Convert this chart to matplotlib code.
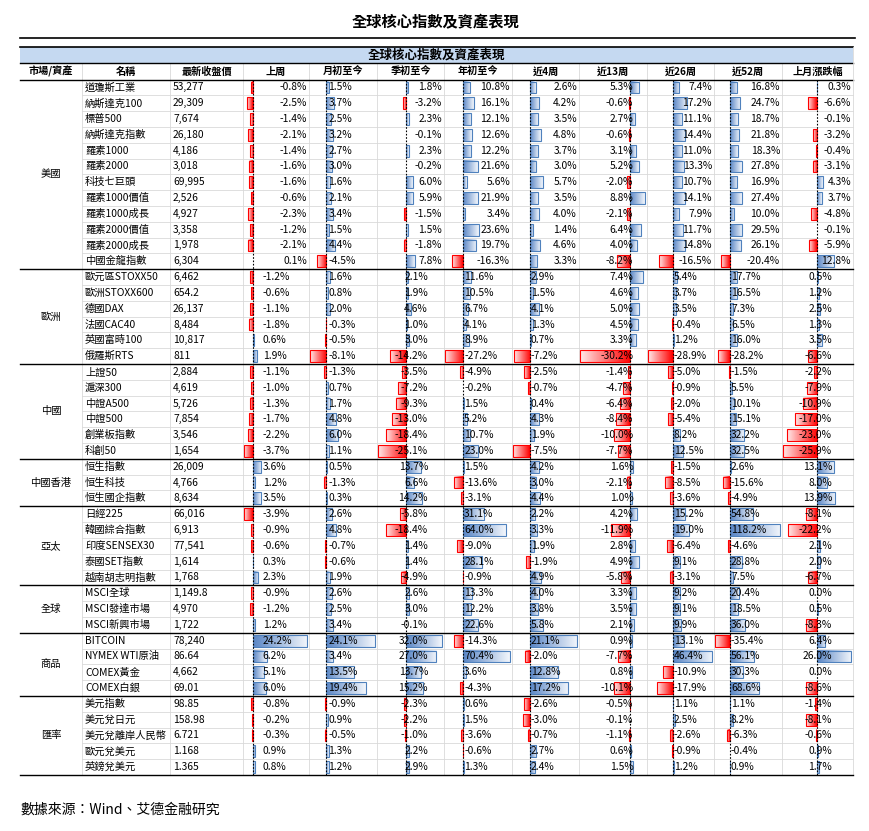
import matplotlib
matplotlib.use("Agg")
import matplotlib.pyplot as plt
import numpy as np
from matplotlib.colors import LinearSegmentedColormap

plt.rcParams['font.family'] = ['Noto Sans CJK TC', 'DejaVu Sans']

title = "全球核心指數及資產表現"
col_headers = ["市場/資產", "名稱", "最新收盤價", "上周", "月初至今", "季初至今", "年初至今",
               "近4周", "近13周", "近26周", "近52周", "上月漲跌幅"]
groups = [("美國", 12), ("歐洲", 6), ("中國", 6), ("中國香港", 3), ("亞太", 5),
          ("全球", 3), ("商品", 4), ("匯率", 5)]
names = ["道瓊斯工業", "納斯達克100", "標普500", "納斯達克指數", "羅素1000", "羅素2000", "科技七巨頭",
         "羅素1000價值", "羅素1000成長", "羅素2000價值", "羅素2000成長", "中國金龍指數",
         "歐元區STOXX50", "歐洲STOXX600", "德國DAX", "法國CAC40", "英國富時100", "俄羅斯RTS",
         "上證50", "滬深300", "中證A500", "中證500", "創業板指數", "科創50",
         "恒生指數", "恒生科技", "恒生國企指數",
         "日經225", "韓國綜合指數", "印度SENSEX30", "泰國SET指數", "越南胡志明指數",
         "MSCI全球", "MSCI發達市場", "MSCI新興市場",
         "BITCOIN", "NYMEX WTI原油", "COMEX黃金", "COMEX白銀",
         "美元指數", "美元兌日元", "美元兌離岸人民幣", "歐元兌美元", "英鎊兌美元"]
latest = ["53,277", "29,309", "7,674", "26,180", "4,186", "3,018", "69,995", "2,526", "4,927", "3,358",
          "1,978", "6,304", "6,462", "654.2", "26,137", "8,484", "10,817", "811", "2,884", "4,619",
          "5,726", "7,854", "3,546", "1,654", "26,009", "4,766", "8,634", "66,016", "6,913", "77,541",
          "1,614", "1,768", "1,149.8", "4,970", "1,722", "78,240", "86.64", "4,662", "69.01",
          "98.85", "158.98", "6.721", "1.168", "1.365"]
wk = [-0.8,-2.5,-1.4,-2.1,-1.4,-1.6,-1.6,-0.6,-2.3,-1.2,-2.1,0.1,
      -1.2,-0.6,-1.1,-1.8,0.6,1.9, -1.1,-1.0,-1.3,-1.7,-2.2,-3.7, 3.6,1.2,3.5,
      -3.9,-0.9,-0.6,0.3,2.3, -0.9,-1.2,1.2, 24.2,6.2,5.1,6.0, -0.8,-0.2,-0.3,0.9,0.8]
mtd = [1.5,3.7,2.5,3.2,2.7,3.0,1.6,2.1,3.4,1.5,4.4,-4.5,
       1.6,0.8,2.0,-0.3,-0.5,-8.1, -1.3,0.7,1.7,4.8,6.0,1.1, 0.5,-1.3,0.3,
       2.6,4.8,-0.7,-0.6,1.9, 2.6,2.5,3.4, 24.1,3.4,13.5,19.4, -0.9,0.9,-0.5,1.3,1.2]
qtd = [1.8,-3.2,2.3,-0.1,2.3,-0.2,6.0,5.9,-1.5,1.5,-1.8,7.8,
       2.1,1.9,4.6,1.0,3.0,-14.2, -3.5,-7.2,-9.3,-13.0,-18.4,-25.1, 13.7,6.6,14.2,
       -5.8,-18.4,1.4,1.4,-4.9, 2.6,3.0,-0.1, 32.0,27.0,13.7,15.2, -2.3,-2.2,-1.0,2.2,2.9]
ytd = [10.8,16.1,12.1,12.6,12.2,21.6,5.6,21.9,3.4,23.6,19.7,-16.3,
       11.6,10.5,6.7,4.1,8.9,-27.2, -4.9,-0.2,1.5,5.2,10.7,23.0, 1.5,-13.6,-3.1,
       31.1,64.0,-9.0,28.1,-0.9, 13.3,12.2,22.6, -14.3,70.4,3.6,-4.3, 0.6,1.5,-3.6,-0.6,1.3]
w4 = [2.6,4.2,3.5,4.8,3.7,3.0,5.7,3.5,4.0,1.4,4.6,3.3,
      2.9,1.5,4.1,1.3,0.7,-7.2, -2.5,-0.7,0.4,4.3,1.9,-7.5, 4.2,3.0,4.4,
      2.2,3.3,1.9,-1.9,4.9, 4.0,3.8,5.8, 21.1,-2.0,12.8,17.2, -2.6,-3.0,-0.7,2.7,2.4]
w13 = [5.3,-0.6,2.7,-0.6,3.1,5.2,-2.0,8.8,-2.1,6.4,4.0,-8.2,
       7.4,4.6,5.0,4.5,3.3,-30.2, -1.4,-4.7,-6.4,-8.4,-10.0,-7.7, 1.6,-2.1,1.0,
       4.2,-11.9,2.8,4.9,-5.8, 3.3,3.5,2.1, 0.9,-7.7,0.8,-10.1, -0.5,-0.1,-1.1,0.6,1.5]
w26 = [7.4,17.2,11.1,14.4,11.0,13.3,10.7,14.1,7.9,11.7,14.8,-16.5,
       5.4,3.7,3.5,-0.4,1.2,-28.9, -5.0,-0.9,-2.0,-5.4,8.2,12.5, -1.5,-8.5,-3.6,
       15.2,19.0,-6.4,9.1,-3.1, 9.2,9.1,9.9, 13.1,46.4,-10.9,-17.9, 1.1,2.5,-2.6,-0.9,1.2]
w52 = [16.8,24.7,18.7,21.8,18.3,27.8,16.9,27.4,10.0,29.5,26.1,-20.4,
       17.7,16.5,7.3,6.5,16.0,-28.2, -1.5,5.5,10.1,15.1,32.2,32.5, 2.6,-15.6,-4.9,
       54.8,118.2,-4.6,28.8,7.5, 20.4,18.5,36.0, -35.4,56.1,30.3,68.6, 1.1,8.2,-6.3,-0.4,0.9]
lm = [0.3,-6.6,-0.1,-3.2,-0.4,-3.1,4.3,3.7,-4.8,-0.1,-5.9,12.8,
      0.5,1.2,2.5,1.3,3.5,-6.6, -2.2,-7.9,-10.9,-17.0,-23.0,-25.9, 13.1,8.0,13.9,
      -8.1,-22.2,2.1,2.0,-6.7, 0.0,0.5,-8.3, 6.4,26.0,0.0,-8.6, -1.4,-8.1,-0.6,0.9,1.7]
series = [wk, mtd, qtd, ytd, w4, w13, w26, w52, lm]

W, H = 869, 831
fig = plt.figure(figsize=(W/100, H/100), dpi=100)
ax = fig.add_axes([0, 0, 1, 1])
ax.set_xlim(0, W); ax.set_ylim(H, 0); ax.axis('off')

edges = [20, 82, 170, 243, 309, 377, 444, 512, 579, 647, 714, 782, 853]
ax.text(436, 22, title, ha='center', va='center', fontsize=11, fontweight='bold')
ax.plot([20, 855], [38, 38], color='black', lw=1.2)
ax.add_patch(plt.Rectangle((20, 47), 833, 16, facecolor='#C5D9F1', edgecolor='none'))
ax.text(436, 55, title, ha='center', va='center', fontsize=9, fontweight='bold')
ax.plot([20, 853], [47, 47], color='black', lw=1.2)
ax.plot([20, 853], [63, 63], color='black', lw=1)
for i, h in enumerate(col_headers):
    ax.text((edges[i]+edges[i+1])/2, 71.5, h, ha='center', va='center', fontsize=7.3, fontweight='bold')
y0 = 79.5
ax.plot([20, 853], [y0, y0], color='black', lw=1)
n = len(names)
rh = (775 - y0) / n
fs = 7.4
for r in range(1, n):
    ax.plot([82, 853], [y0 + r*rh]*2, color='#D9D9D9', lw=0.6, zorder=0)
for e in edges[1:-1]:
    ax.plot([e, e], [63, y0 + n*rh], color='#D9D9D9', lw=0.6, zorder=0)
ax.plot([853, 853], [47, y0 + n*rh], color='#D9D9D9', lw=0.6)

grad = np.linspace(0, 1, 64)[None, :]
cm_b = LinearSegmentedColormap.from_list('b', ['#5A86C5', '#F2F6FC'])
cm_r = LinearSegmentedColormap.from_list('r', ['#FF0000', '#FFE8E8'])

r0 = 0
for g, cnt in groups:
    yc = y0 + (r0 + cnt/2)*rh
    ax.text(51, yc, g, ha='center', va='center', fontsize=fs)
    r0 += cnt
    ax.plot([20, 853], [y0 + r0*rh]*2, color='black', lw=1, zorder=5)

for r in range(n):
    yc = y0 + (r + 0.5)*rh
    ax.text(85, yc, names[r], ha='left', va='center', fontsize=fs)
    ax.text(173, yc, latest[r], ha='left', va='center', fontsize=fs)

for c, vals in enumerate(series):
    L, R = edges[3+c] + 1, edges[4+c] - 2
    lo, hi = min(0, min(vals)), max(0, max(vals))
    scale = (R - L) / (hi - lo)
    zx = L + (-lo)*scale
    ax.plot([zx, zx], [y0, y0 + n*rh], color='black', lw=0.8, ls=(0, (1.5, 1.5)), zorder=4)
    for r, v in enumerate(vals):
        yt = y0 + r*rh + 2
        bh = rh - 4
        x1 = zx + v*scale
        if abs(x1 - zx) > 0.3:
            left, right = min(zx, x1), max(zx, x1)
            img = grad if v > 0 else grad[:, ::-1]
            ax.imshow(img, extent=(left, right, yt + bh, yt), aspect='auto',
                      cmap=cm_b if v > 0 else cm_r, zorder=2, interpolation='bilinear')
            ax.add_patch(plt.Rectangle((left, yt), right-left, bh, fill=False,
                         edgecolor='#4F81BD' if v > 0 else '#FF0000', lw=0.8, zorder=3))
        yc = y0 + (r + 0.5)*rh
        s = f"{v:.1f}%"
        us = r < 12
        if c == 1:
            ax.text(zx + 2, yc, s, ha='left', va='center', fontsize=fs, zorder=6)
        elif c == 5:
            ax.text(zx + 3, yc, s, ha='right', va='center', fontsize=fs, zorder=6)
        elif us:
            ax.text(edges[4+c] - 2, yc, s, ha='right', va='center', fontsize=fs, zorder=6)
        elif c == 2:
            ax.text(428, yc, s, ha='right', va='center', fontsize=fs, zorder=6)
        elif c == 8:
            ax.text(832, yc, s, ha='right', va='center', fontsize=fs, zorder=6)
        elif c == 0:
            ax.text(zx + 10, yc, s, ha='left', va='center', fontsize=fs, zorder=6)
        else:
            ax.text(zx + 1, yc, s, ha='left', va='center', fontsize=fs, zorder=6)

ax.text(20, 810, "數據來源：Wind、艾德金融研究", ha='left', va='center', fontsize=10, style='italic')
fig.savefig("out.png", dpi=100)
